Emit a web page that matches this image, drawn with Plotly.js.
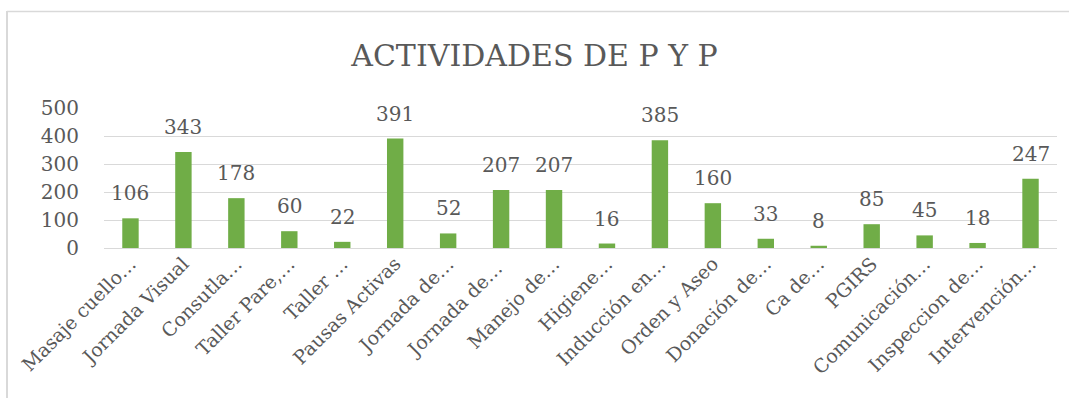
<!DOCTYPE html>
<html>
<head>
<meta charset="utf-8">
<script src="https://cdn.plot.ly/plotly-3.0.1.min.js"></script>
<style>html,body{margin:0;padding:0;background:#fff;}#chart{width:1069px;height:406px;}</style>
</head>
<body>
<div id="chart"></div>
<script>
const categories = ["Masaje cuello…","Jornada Visual","Consutla…","Taller Pare,…","Taller …","Pausas Activas","Jornada de…","Jornada de… ","Manejo de…","Higiene…","Inducción en…","Orden y Aseo","Donación de…","Ca de…","PGIRS","Comunicación…","Inspeccion de…","Intervención…"];
const values = [106,343,178,60,22,391,52,207,207,16,385,160,33,8,85,45,18,247];
const yTicks = [0,100,200,300,400,500];

const font = "'DejaVu Serif', serif";
const W = 1069, H = 406;
const L = 104, R = 12, T = 108, B = 158;
const pw = W - L - R, ph = H - T - B;

const annotations = categories.map((c, i) => ({
  x: c, y: values[i], xref: 'x', yref: 'y', text: String(values[i]),
  showarrow: false, yanchor: 'bottom', yshift: 11,
  font: {family: font, size: 20, color: '#595959'}
}));

const layout = {
  width: W, height: H,
  margin: {l: L, r: R, t: T, b: B, pad: 0},
  paper_bgcolor: '#fff', plot_bgcolor: '#fff',
  title: {text: 'ACTIVIDADES DE P Y P', x: 0.5, xanchor: 'center', y: 1 - 55/H, yanchor: 'middle',
          font: {family: font, size: 30, color: '#595959'}},
  showlegend: false,
  bargap: 0.69,
  xaxis: {type: 'category', tickangle: -45, showgrid: false, zeroline: false, showline: false, ticks: '',
          tickfont: {family: font, size: 19, color: '#595959'}, automargin: false},
  yaxis: {range: [0, 500], tickvals: yTicks, ticktext: yTicks.map(String), showgrid: true, gridcolor: '#d9d9d9', gridwidth: 1,
          zeroline: true, zerolinecolor: '#d9d9d9', zerolinewidth: 1, showline: false, ticks: 'outside', ticklen: 20, tickcolor: 'rgba(0,0,0,0)',
          tickfont: {family: font, size: 20, color: '#595959'}, automargin: false, fixedrange: true},
  annotations: annotations,
  shapes: [
    {type: 'line', xref: 'paper', yref: 'paper', x0: (7 - L)/pw, x1: (W + 5 - L)/pw, y0: (H - 11.5 - B)/ph, y1: (H - 11.5 - B)/ph, line: {color: '#d9d9d9', width: 1.5}},
    {type: 'line', xref: 'paper', yref: 'paper', x0: (7 - L)/pw, x1: (7 - L)/pw, y0: (H - 11 - B)/ph, y1: (-B + 8)/ph, line: {color: '#d9d9d9', width: 2}}
  ]
};

Plotly.newPlot('chart', [{
  type: 'bar', x: categories, y: values, marker: {color: '#70ad47'}, hoverinfo: 'x+y', cliponaxis: false
}], layout, {displayModeBar: false, staticPlot: true});
</script>
</body>
</html>
